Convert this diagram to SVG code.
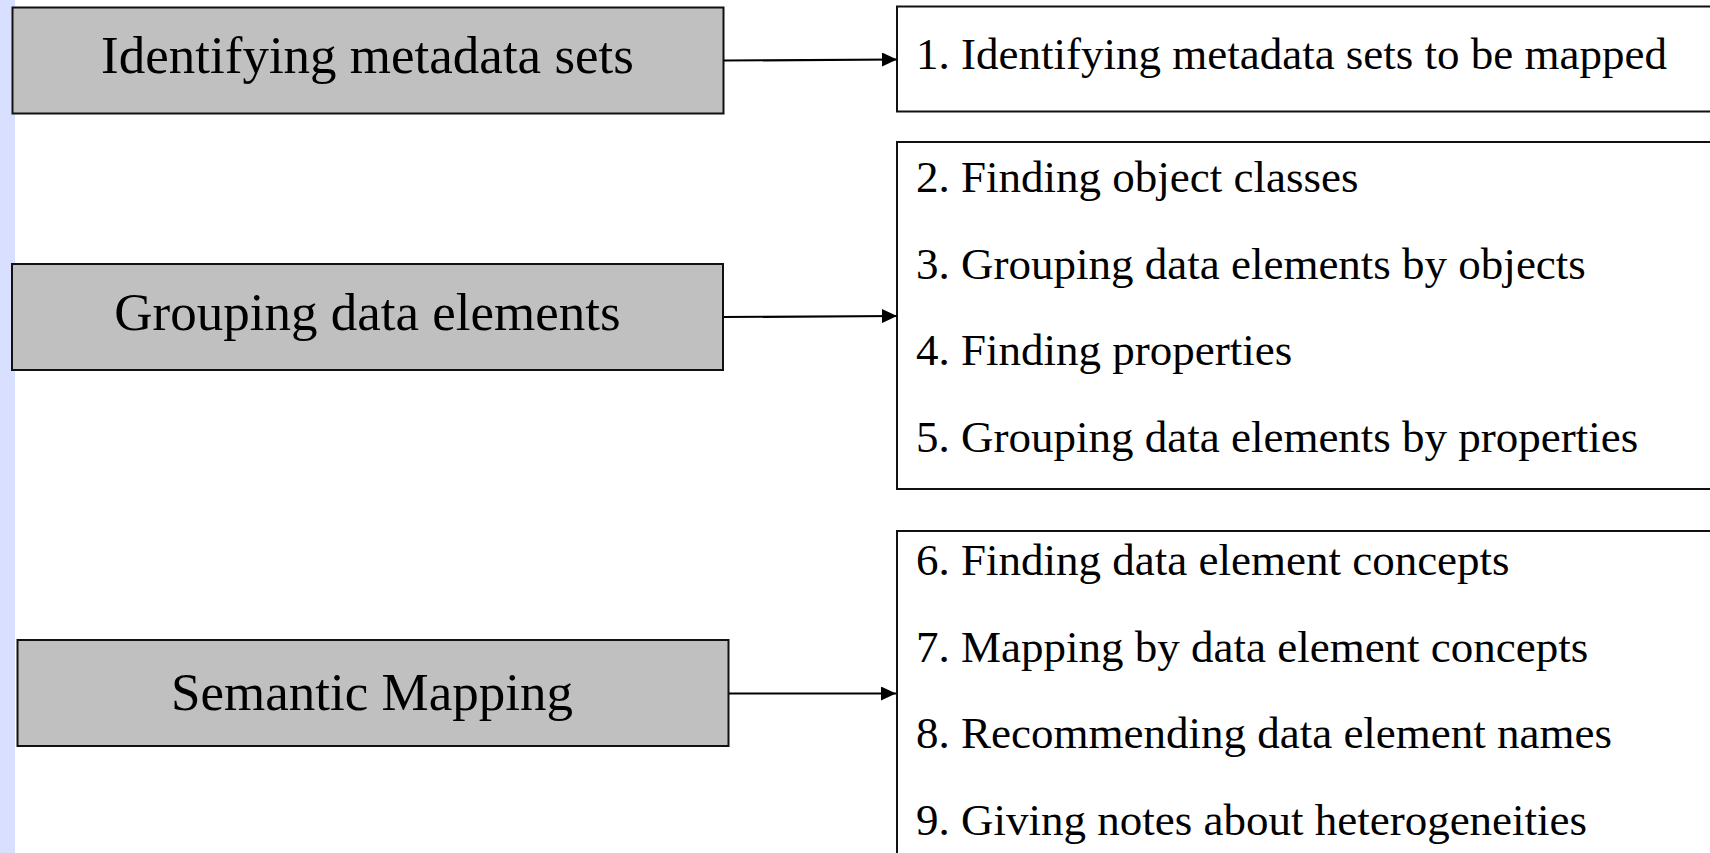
<svg xmlns="http://www.w3.org/2000/svg" width="1710" height="853" viewBox="0 0 1710 853">
<style>
.lbox{fill:#c0c0c0;stroke:#111;stroke-width:2}
.rbox{fill:#fff;stroke:#111;stroke-width:2}
.lt{font-family:"Liberation Serif","Times New Roman",serif;font-size:53px;fill:#000;text-anchor:middle}
.rt{font-family:"Liberation Serif","Times New Roman",serif;font-size:45px;fill:#000}
.conn{stroke:#000;stroke-width:2.2;fill:none}
</style>
<defs>
<marker id="arr" markerUnits="userSpaceOnUse" markerWidth="16" markerHeight="14" refX="15" refY="7" orient="auto">
<path d="M0,0 L15,7 L0,14 Z" fill="#000"/>
</marker>
</defs>
<rect x="0" y="0" width="1710" height="853" fill="#fff"/>
<rect x="0" y="0" width="15" height="853" fill="#d9e0ff"/>
<g id="n-identifying">
<rect class="lbox" x="12.5" y="7.5" width="711" height="106"/>
<text class="lt" x="367.5" y="73">Identifying metadata sets</text>
</g>
<g id="n-grouping">
<rect class="lbox" x="12" y="264" width="711" height="106"/>
<text class="lt" x="367.5" y="330">Grouping data elements</text>
</g>
<g id="n-semantic">
<rect class="lbox" x="17.5" y="640" width="711" height="106"/>
<text class="lt" x="372" y="710">Semantic Mapping</text>
</g>
<g id="n-step1">
<rect class="rbox" x="897" y="6.5" width="830" height="105"/>
<text class="rt" x="916" y="69">1. Identifying metadata sets to be mapped</text>
</g>
<g id="n-steps2-5">
<rect class="rbox" x="897" y="142" width="830" height="347"/>
<text class="rt" x="916" y="192">2. Finding object classes</text>
<text class="rt" x="916" y="278.5">3. Grouping data elements by objects</text>
<text class="rt" x="916" y="365">4. Finding properties</text>
<text class="rt" x="916" y="451.5">5. Grouping data elements by properties</text>
</g>
<g id="n-steps6-9">
<rect class="rbox" x="897" y="531" width="830" height="340"/>
<text class="rt" x="916" y="575">6. Finding data element concepts</text>
<text class="rt" x="916" y="661.5">7. Mapping by data element concepts</text>
<text class="rt" x="916" y="748">8. Recommending data element names</text>
<text class="rt" x="916" y="834.5">9. Giving notes about heterogeneities</text>
</g>
<g id="connectors">
<line class="conn" x1="724" y1="60.5" x2="897" y2="59.5" marker-end="url(#arr)"/>
<line class="conn" x1="724" y1="317" x2="897" y2="316" marker-end="url(#arr)"/>
<line class="conn" x1="729" y1="693.5" x2="896" y2="693.5" marker-end="url(#arr)"/>
</g>
</svg>
